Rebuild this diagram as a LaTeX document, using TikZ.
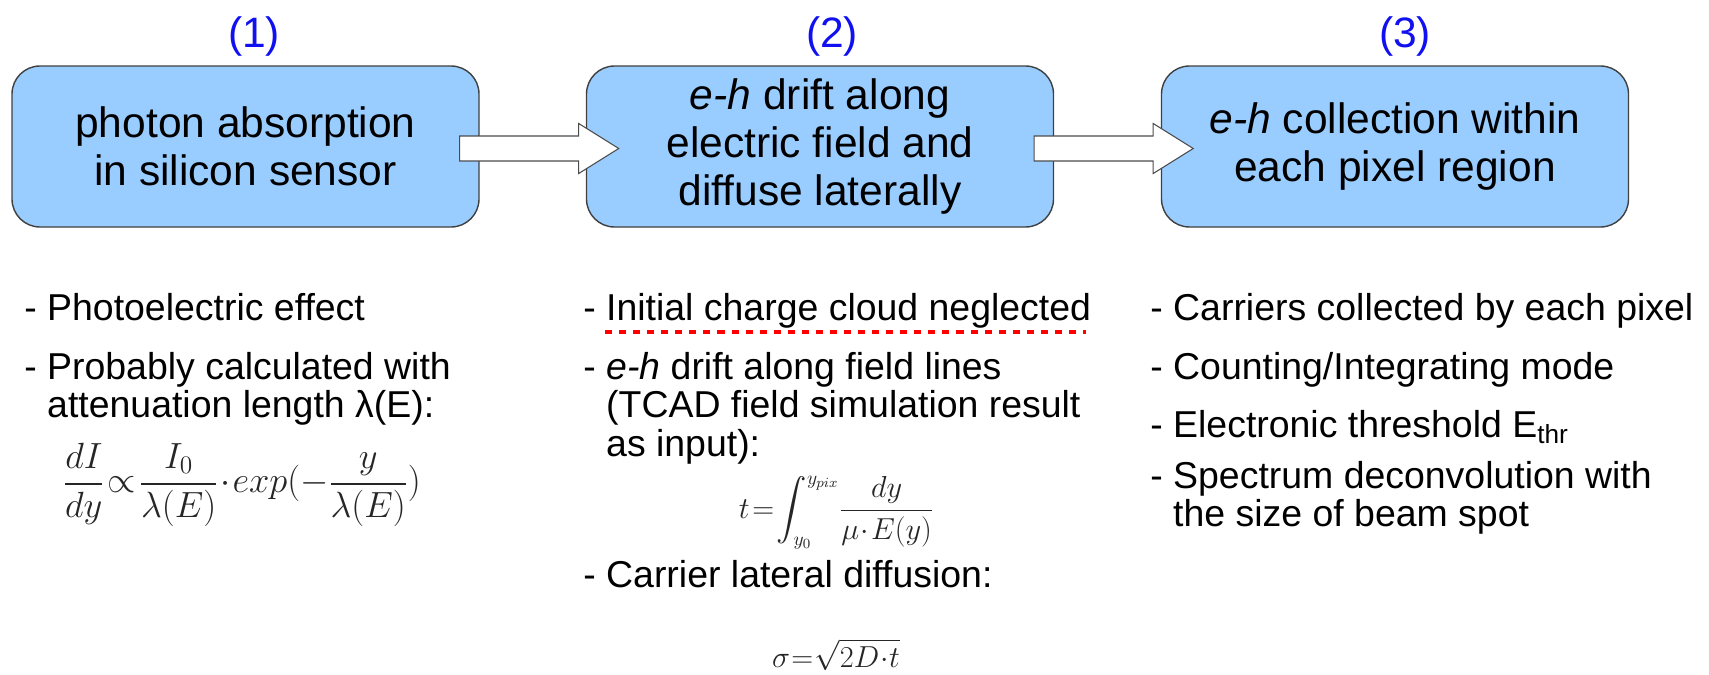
\documentclass[tikz,border=0pt]{standalone}
\usepackage{amsmath}
\usepackage{fontspec}
\setmainfont{Liberation Sans}
\usetikzlibrary{positioning,calc}
\definecolor{boxblue}{HTML}{99CCFF}
\definecolor{numblue}{HTML}{1010F0}
\newcommand{\eqtight}{\thickmuskip=1.5mu\relax\medmuskip=1mu\relax\thinmuskip=1mu\relax}

\begin{document}
\begin{tikzpicture}[
  stage/.style={draw=black!75, line width=0.8pt, fill=boxblue, rounded corners=0.56cm, minimum width=9.34cm, minimum height=3.22cm, align=center, font=\fontsize{24.2}{27.3}\selectfont},
  num/.style={text=numblue, font=\fontsize{24.2}{27.3}\selectfont},
  item/.style={anchor=base west, align=left, inner sep=0pt, font=\fontsize{21.3}{21.8}\selectfont},
  eq/.style={text=black!85, inner sep=0pt, font=\fontsize{20}{24}\selectfont},
  flow/.style={draw=black!70, fill=white, line width=0.6pt},
  underl/.style={draw=red, dashed, dash pattern=on 4pt off 4pt, line width=1.8pt}
]
\useasboundingbox (0,0) rectangle (34.18,-13.48);

\node[stage] (b1) at (4.91,-2.93) {photon absorption\\in silicon sensor};
\node[stage] (b2) at (16.40,-2.93) {\textit{e-h} drift along\\electric field and\\diffuse laterally};
\node[stage] (b3) at (27.90,-2.93) {\textit{e-h} collection within\\each pixel region};
\node[num] (n1) at (5.08,-0.72) {(1)};
\node[num] (n2) at (16.64,-0.72) {(2)};
\node[num] (n3) at (28.10,-0.72) {(3)};

\draw[flow] ([xshift=-0.4cm,yshift=-0.04cm]b1.east) ++(0,0.25) -- ++(2.38,0) -- ++(0,0.25) -- ++(0.8,-0.5) -- ++(-0.8,-0.5) -- ++(0,0.25) -- ++(-2.38,0) -- cycle;
\draw[flow] ([xshift=-0.4cm,yshift=-0.04cm]b2.east) ++(0,0.25) -- ++(2.38,0) -- ++(0,0.25) -- ++(0.8,-0.5) -- ++(-0.8,-0.5) -- ++(0,0.25) -- ++(-2.38,0) -- cycle;

\node[item] (l1) at (0.48,-6.40) {- Photoelectric effect};
\node[item] (l2) at (0.48,-8.35) {- Probably calculated with\\\hphantom{- }attenuation length λ(E):};
\node[eq] (f1) at (4.84,-9.70) {$\eqtight\displaystyle \frac{dI}{dy}\propto\frac{I_{0}}{\lambda(E)}\cdot exp(-\frac{y}{\lambda(E)})$};

\node[item] (m1) at (11.66,-6.40) {- Initial charge cloud neglected};
\node[item] (m2) at (11.66,-9.12) {- \textit{e-h} drift along field lines\\\hphantom{- }(TCAD field simulation result\\\hphantom{- }as input):};
\node[eq, font=\fontsize{18.5}{22}\selectfont] (f2) at (16.73,-10.25) {$\eqtight\displaystyle t=\mbox{\fontsize{16}{18}\selectfont$\displaystyle\int_{y_{0}}^{y_{pix}}$}\frac{dy}{\mu\cdot E(y)}$};
\node[item] (m3) at (11.66,-11.74) {- Carrier lateral diffusion:};
\node[eq, anchor=base, font=\fontsize{16.5}{20}\selectfont] (f3) at (16.72,-13.34) {$\thickmuskip=0.8mu\relax\medmuskip=0.4mu\relax\sigma=\sqrt{2D\cdot t}$};
\draw[underl] ([xshift=0.44cm,yshift=-0.24cm]m1.base west) -- ([xshift=-0.1cm,yshift=-0.24cm]m1.base east);

\node[item] (r1) at (23.00,-6.40) {- Carriers collected by each pixel};
\node[item] (r2) at (23.00,-7.58) {- Counting/Integrating mode};
\node[item] (r3) at (23.00,-8.74) {- Electronic threshold E\textsubscript{thr}};
\node[item] (r4) at (23.00,-10.53) {- Spectrum deconvolution with\\\hphantom{- }the size of beam spot};
\end{tikzpicture}
\end{document}
